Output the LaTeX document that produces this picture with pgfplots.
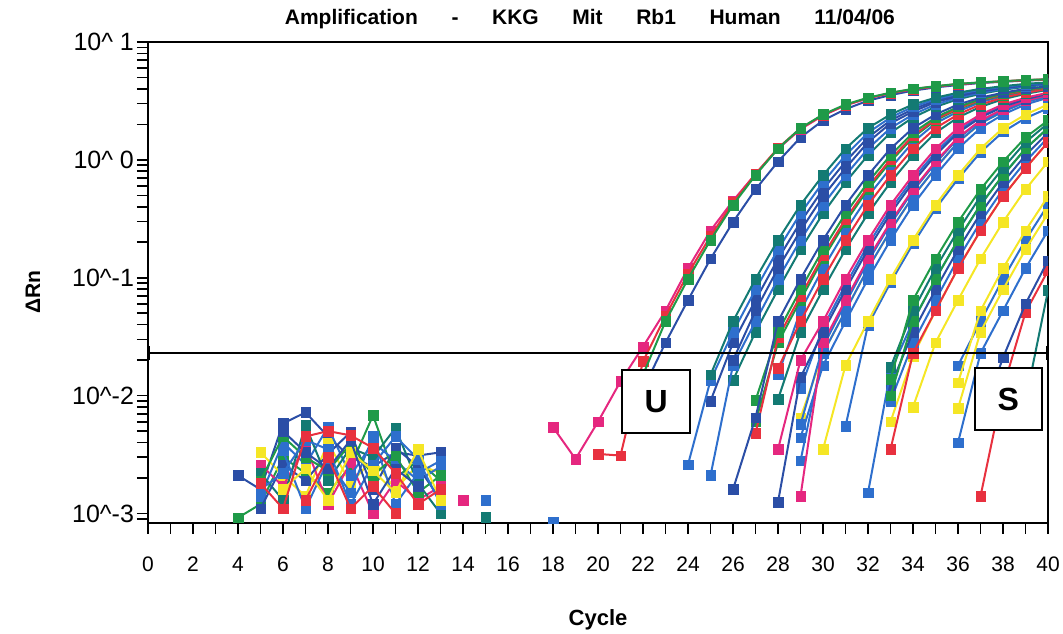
\documentclass[border=0pt]{standalone}
\usepackage{pgfplots}
\pgfplotsset{compat=1.18}
\usepackage{fontspec}
\setmainfont{Liberation Sans}
\definecolor{pk}{HTML}{E5277F}
\definecolor{rd}{HTML}{E8313F}
\definecolor{gr}{HTML}{1F9A48}
\definecolor{tl}{HTML}{137A73}
\definecolor{ry}{HTML}{2B4EA6}
\definecolor{bl}{HTML}{2E6FCD}
\definecolor{yl}{HTML}{F5E625}
\pgfplotsset{ser/.style={color=#1, mark=square*, mark size=2.4pt, line width=1pt,
  mark options={solid, fill=#1, draw=#1, line width=0.2pt}}}
\begin{document}
\begin{tikzpicture}
\useasboundingbox (-74pt,-55pt) rectangle (457.5pt,261.5pt);
\begin{axis}[
  at={(0,0)}, anchor=south west,
  scale only axis, width=450pt, height=240.5pt,
  xmin=0, xmax=40, ymode=log, ymin=0.00083, ymax=10,
  clip marker paths=true,
  xtick={0,2,...,40}, minor xtick={1,3,...,39},
  ytick={0.001,0.01,0.1,1,10},
  yticklabels={{10\textasciicircum-3},{10\textasciicircum-2},{10\textasciicircum-1},{10\textasciicircum\ 0},{10\textasciicircum\ 1}},
  minor ytick={0.0009,0.002,0.003,0.004,0.005,0.006,0.007,0.008,0.009,0.02,0.03,0.04,0.05,0.06,0.07,0.08,0.09,0.2,0.3,0.4,0.5,0.6,0.7,0.8,0.9,2,3,4,5,6,7,8,9},
  tick pos=left, tick align=outside,
  major tick length=5.5pt, minor tick length=5.5pt,
  every tick/.style={black, line width=0.8pt},
  axis line style={line width=1pt},
  /pgf/number format/assume math mode=true,
  tick label style={font=\fontsize{10.5}{12}\selectfont},
  xticklabel style={yshift=-8pt},
  yticklabel style={xshift=2pt, font=\fontsize{12.5}{14}\selectfont},
  title={Amplification\hspace{1.6em}-\hspace{1.6em}KKG\hspace{1.6em}Mit\hspace{1.6em}Rb1\hspace{1.6em}Human\hspace{1.6em}11/04/06},
  title style={at={(axis description cs:0.491,1.023)}, anchor=center, font=\bfseries\fontsize{10.5}{12}\selectfont},
  xlabel={Cycle},
  xlabel style={at={(axis description cs:0.5,-0.2017)}, anchor=center, font=\bfseries\fontsize{11}{13}\selectfont},
  ylabel={ΔRn},
  ylabel style={at={(axis description cs:-0.1278,0.48)}, anchor=center, font=\bfseries\fontsize{10.5}{12}\selectfont},
]
% baseline noise
\addplot[ser=ry] coordinates {(4,.0021)(5,.0016)(6,.0058)(7,.0072)(8,.0045)(9,.0030)(10,.0025)(11,.0033)(12,.0031)(13,.0033)};
\addplot[ser=gr] coordinates {(4,.00092)(5,.0012)(6,.0030)(7,.0022)(8,.0015)(9,.0025)(10,.0068)(11,.0020)(12,.0028)(13,.0019)};
\addplot[ser=yl] coordinates {(5,.0033)(6,.0021)(7,.0014)(8,.0040)(9,.0018)(10,.0029)(11,.0016)(12,.0026)(13,.0022)};
\addplot[ser=pk] coordinates {(5,.0026)(6,.0017)(7,.0038)(8,.0012)(9,.0027)(10,.0010)(11,.0019)(12,.0013)(13,.0017)};
\addplot[ser=bl] coordinates {(5,.0014)(6,.0040)(7,.0026)(8,.0054)(9,.0021)(10,.0040)(11,.0028)(12,.0019)(13,.0025)};
\addplot[ser=tl] coordinates {(5,.0022)(6,.0013)(7,.0056)(8,.0019)(9,.0036)(10,.0030)(11,.0053)(12,.0018)(13,.0010)};
\addplot[ser=ry] coordinates {(5,.0011)(6,.0026)(7,.0019)(8,.0032)(9,.0049)(10,.0016)(11,.0036)(12,.0025)(13,.0013)};
\addplot[ser=bl] coordinates {(6,.0034)(7,.0011)(8,.0028)(9,.0015)(10,.0045)(11,.0012)(12,.0022)(13,.0028)};
\addplot[ser=gr] coordinates {(5,.0019)(6,.0045)(7,.0030)(8,.0023)(9,.0039)(10,.0021)(11,.0031)(12,.0015)(13,.0021)};
\addplot[ser=bl] coordinates {(5,.0016)(6,.0022)(7,.0042)(8,.0035)(9,.0012)(10,.0026)(11,.0045)(12,.0029)(13,.0012)};
\addplot[ser=yl] coordinates {(6,.0016)(7,.0024)(8,.0013)(9,.0033)(10,.0023)(11,.0015)(12,.0035)(13,.0013)};
\addplot[ser=ry] coordinates {(6,.0050)(7,.0033)(8,.0024)(9,.0042)(10,.0012)(11,.0024)(12,.0017)};
\addplot[ser=rd] coordinates {(7,.0013)(8,.0030)(9,.0011)(10,.0017)(11,.0010)};
\addplot[ser=rd] coordinates {(5,.0018)(6,.0011)(7,.0045)(8,.0050)(9,.0046)(10,.0036)(11,.0022)(12,.0012)(13,.0016)};
\addplot[ser=pk] coordinates {(14,.0013)};
\addplot[ser=bl] coordinates {(15,.0013)};
\addplot[ser=tl] coordinates {(15,.00093)};
\addplot[ser=bl] coordinates {(18,.00085)};
% late curves
\addplot[ser=tl] coordinates {(39,.0090)(40,.0780)};
\addplot[ser=rd] coordinates {(37,.0014)(38,.0115)(39,.0510)(40,.1150)};
\addplot[ser=ry] coordinates {(37,.0060)(38,.0210)(39,.0600)(40,.1400)};
\addplot[ser=bl] coordinates {(36,.0040)(37,.0229)(38,.0525)(39,.1202)(40,.2512)};
\addplot[ser=bl] coordinates {(36,.0180)(37,.04266)(38,.0977)(39,.2089)(40,.4145)};
\addplot[ser=yl] coordinates {(36,.0078)(37,.0347)(38,.0794)(39,.1738)(40,.3508)};
\addplot[ser=yl] coordinates {(36,.0129)(37,.0525)(38,.1202)(39,.2512)(40,.4898)};
\addplot[ser=yl] coordinates {(34,.0080)(35,.0281)(36,.0646)(37,.1445)(38,.2968)(39,.5623)(40,.966)};
\addplot[ser=yl] coordinates {(33,.0060)(34,.0217)(35,.0525)(36,.1202)(37,.2512)(38,.4898)(39,.851)(40,1.413)};
% group 4
\addplot[ser=bl] coordinates {(33,.0090)(34,.0281)(35,.0646)(36,.1445)(37,.2968)(38,.5623)(39,.966)(40,1.549)};
\addplot[ser=ry] coordinates {(33,.0120)(34,.0347)(35,.0794)(36,.1738)(37,.3508)(38,.6457)(39,1.096)(40,1.698)};
\addplot[ser=bl] coordinates {(32,.0015)(33,.0160)(34,.04266)(35,.0977)(36,.2089)(37,.4145)(38,.7413)(39,1.245)(40,1.862)};
\addplot[ser=rd] coordinates {(33,.0035)(34,.0229)(35,.0525)(36,.1202)(37,.2512)(38,.4898)(39,.851)(40,1.413)};
\addplot[ser=gr] coordinates {(33,.0100)(34,.0430)(35,.0977)(36,.2089)(37,.4145)(38,.7413)(39,1.245)(40,1.862)};
\addplot[ser=tl] coordinates {(33,.0174)(34,.0525)(35,.1202)(36,.2512)(37,.4898)(38,.851)(39,1.413)(40,2.042)};
\addplot[ser=gr] coordinates {(33,.0138)(34,.0646)(35,.1445)(36,.2968)(37,.5623)(38,.966)(39,1.549)(40,2.163)};
% yellow / blue ~31
\addplot[ser=bl] coordinates {(31,.0055)(32,.0397)(33,.0909)(34,.194)(35,.386)(36,.69)(37,1.16)(38,1.73)(39,2.26)(40,2.74)};
\addplot[ser=yl] coordinates {(30,.0035)(31,.01807)(32,.04266)(33,.0977)(34,.2089)(35,.4145)(36,.7413)(37,1.245)(38,1.862)(39,2.427)(40,2.951)};
\addplot[ser=yl] coordinates {(29,.0065)(30,.0229)(31,.0525)(32,.1202)(33,.2512)(34,.4898)(35,.851)(36,1.413)(37,2.042)(38,2.570)(39,3.090)(40,3.467)};
% group 3
\addplot[ser=bl] coordinates {(29,.0115)(30,.038)(31,.087)(32,.19)(33,.38)(34,.69)(35,1.16)(36,1.77)(37,2.36)(38,2.88)(39,3.32)(40,3.67)};
\addplot[ser=bl] coordinates {(29,.0044)(30,.0180)(31,.04266)(32,.0977)(33,.2089)(34,.4145)(35,.7413)(36,1.245)(37,1.862)(38,2.427)(39,2.951)(40,3.370)};
\addplot[ser=bl] coordinates {(29,.0057)(30,.0260)(31,.0610)(32,.138)(33,.285)(34,.545)(35,.94)(36,1.52)(37,2.13)(38,2.66)(39,3.15)(40,3.52)};
\addplot[ser=bl] coordinates {(29,.0028)(30,.0229)(31,.0525)(32,.1202)(33,.2512)(34,.4898)(35,.851)(36,1.413)(37,2.042)(38,2.570)(39,3.090)(40,3.467)};
\addplot[ser=pk] coordinates {(29,.0014)(30,.0281)(31,.0646)(32,.1445)(33,.2968)(34,.5623)(35,.966)(36,1.549)(37,2.163)(38,2.692)(39,3.181)(40,3.548)};
\addplot[ser=ry] coordinates {(28,.00125)(29,.0143)(30,.0347)(31,.0794)(32,.1738)(33,.3508)(34,.6457)(35,1.096)(36,1.698)(37,2.291)(38,2.818)(39,3.273)(40,3.631)};
\addplot[ser=pk] coordinates {(28,.0035)(29,.0200)(30,.04266)(31,.0977)(32,.2089)(33,.4145)(34,.7413)(35,1.245)(36,1.862)(37,2.427)(38,2.951)(39,3.370)(40,3.715)};
\addplot[ser=bl] coordinates {(28,.0150)(29,.0525)(30,.1202)(31,.2512)(32,.4898)(33,.851)(34,1.413)(35,2.042)(36,2.570)(37,3.090)(38,3.467)(39,3.802)(40,4.074)};
\addplot[ser=tl] coordinates {(28,.0093)(29,.0347)(30,.0794)(31,.1738)(32,.3508)(33,.6457)(34,1.096)(35,1.698)(36,2.291)(37,2.818)(38,3.273)(39,3.631)(40,3.936)};
\addplot[ser=rd] coordinates {(28,.0170)(29,.0427)(30,.0977)(31,.2089)(32,.4145)(33,.7413)(34,1.245)(35,1.862)(36,2.427)(37,2.951)(38,3.370)(39,3.715)(40,4.004)};
\addplot[ser=gr] coordinates {(27,.0060)(28,.0281)(29,.0646)(30,.1445)(31,.2968)(32,.5623)(33,.966)(34,1.549)(35,2.163)(36,2.692)(37,3.181)(38,3.548)(39,3.868)(40,4.121)};
\addplot[ser=rd] coordinates {(27,.0048)(28,.0310)(29,.0700)(30,.1540)(31,.3150)(32,.590)(33,1.01)(34,1.60)(35,2.21)(36,2.74)(37,3.22)(38,3.58)(39,3.90)(40,4.14)};
\addplot[ser=gr] coordinates {(27,.0091)(28,.0347)(29,.0794)(30,.1738)(31,.3508)(32,.6457)(33,1.096)(34,1.698)(35,2.291)(36,2.818)(37,3.273)(38,3.631)(39,3.936)(40,4.169)};
% group 2
\addplot[ser=ry] coordinates {(26,.0016)(27,.0065)(28,.04266)(29,.0977)(30,.2089)(31,.4145)(32,.7413)(33,1.245)(34,1.862)(35,2.427)(36,2.951)(37,3.370)(38,3.715)(39,4.004)(40,4.217)};
\addplot[ser=tl] coordinates {(26,.0135)(27,.0347)(28,.0794)(29,.1738)(30,.3508)(31,.6457)(32,1.096)(33,1.698)(34,2.291)(35,2.818)(36,3.273)(37,3.631)(38,3.936)(39,4.169)(40,4.365)};
\addplot[ser=bl] coordinates {(25,.0021)(26,.0182)(27,.04266)(28,.0977)(29,.2089)(30,.4145)(31,.7413)(32,1.245)(33,1.862)(34,2.427)(35,2.951)(36,3.370)(37,3.715)(38,4.004)(39,4.217)(40,4.416)};
\addplot[ser=ry] coordinates {(26,.0200)(27,.0525)(28,.1202)(29,.2512)(30,.4898)(31,.851)(32,1.413)(33,2.042)(34,2.570)(35,3.090)(36,3.467)(37,3.802)(38,4.074)(39,4.266)(40,4.467)};
\addplot[ser=ry] coordinates {(25,.0090)(26,.0281)(27,.0646)(28,.1445)(29,.2968)(30,.5623)(31,.966)(32,1.549)(33,2.163)(34,2.692)(35,3.181)(36,3.548)(37,3.868)(38,4.121)(39,4.315)(40,4.494)};
\addplot[ser=bl] coordinates {(24,.0026)(25,.0135)(26,.0347)(27,.0794)(28,.1738)(29,.3508)(30,.6457)(31,1.096)(32,1.698)(33,2.291)(34,2.818)(35,3.273)(36,3.631)(37,3.936)(38,4.169)(39,4.365)(40,4.519)};
\addplot[ser=tl] coordinates {(25,.0150)(26,.04266)(27,.0977)(28,.2089)(29,.4145)(30,.7413)(31,1.245)(32,1.862)(33,2.427)(34,2.951)(35,3.370)(36,3.715)(37,4.004)(38,4.217)(39,4.416)(40,4.545)};
% group 1
\addplot[ser=ry] coordinates {(22,.0113)(23,.0281)(24,.0646)(25,.1445)(26,.2968)(27,.5623)(28,.966)(29,1.549)(30,2.163)(31,2.692)(32,3.181)(33,3.548)(34,3.868)(35,4.121)(36,4.315)(37,4.494)(38,4.597)(39,4.705)(40,4.799)};
\addplot[ser=pk] coordinates {(18,.0054)(19,.0029)(20,.0060)(21,.0132)(22,.026)(23,.0525)(24,.1202)(25,.2512)(26,.45)(27,.76)(28,1.24)(29,1.82)(30,2.38)(31,2.90)(32,3.33)(33,3.68)(34,3.97)(35,4.19)(36,4.39)(37,4.52)(38,4.63)(39,4.74)(40,4.81)};
\addplot[ser=rd] coordinates {(20,.0032)(21,.0031)(22,.0195)(23,.0473)(24,.1084)(25,.225)(26,.435)(27,.76)(28,1.26)(29,1.85)(30,2.40)(31,2.92)(32,3.34)(33,3.69)(34,3.98)(35,4.20)(36,4.40)(37,4.53)(38,4.64)(39,4.75)(40,4.82)};
\addplot[ser=gr] coordinates {(22,.0150)(23,.04266)(24,.0977)(25,.2089)(26,.4145)(27,.7413)(28,1.245)(29,1.862)(30,2.427)(31,2.951)(32,3.370)(33,3.715)(34,4.004)(35,4.217)(36,4.416)(37,4.545)(38,4.650)(39,4.759)(40,4.828)};
% threshold
\addplot[black, line width=1.1pt, mark=|, mark size=3.5pt, mark options={line width=2.2pt}] coordinates {(0,0.0229)(40,0.0229)};
\coordinate (Upos) at (axis cs:22.58,0.00885);
\coordinate (Spos) at (axis cs:38.24,0.00929);
\end{axis}
\node[draw, fill=white, line width=0.9pt, minimum width=34pt, minimum height=31.5pt, inner sep=0pt, font=\bfseries\fontsize{16}{18}\selectfont] at (Upos) {U};
\node[draw, fill=white, line width=0.9pt, minimum width=33.5pt, minimum height=31pt, inner sep=0pt, font=\bfseries\fontsize{16}{18}\selectfont] at (Spos) {S};
\end{tikzpicture}
\end{document}
